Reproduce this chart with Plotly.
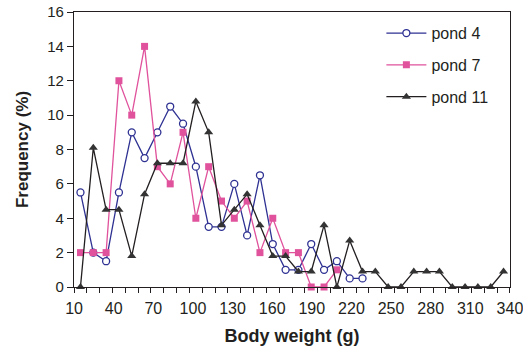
import plotly.graph_objects as go

# Body-weight bins (10 g wide, 10-350 g) -> bin centres
bin_centres = [15 + 10 * i for i in range(34)]

# Frequencies (%)
pond4 = [5.5, 2.0, 1.5, 5.5, 9.0, 7.5, 9.0, 10.5, 9.5, 7.0, 3.5, 3.5, 6.0, 3.0,
         6.5, 2.5, 1.0, 1.0, 2.5, 1.0, 1.5, 0.5, 0.5]
pond7 = [2, 2, 2, 12, 10, 14, 7, 6, 9, 4, 7, 5, 4, 5, 2, 4, 2, 2, 0, 0, 1]
pond11 = [0.0, 8.1, 4.5, 4.5, 1.8, 5.4, 7.2, 7.2, 7.2, 10.8, 9.0, 3.6, 4.5, 5.4,
          3.6, 1.8, 1.8, 0.9, 0.9, 3.6, 0.0, 2.7, 0.9, 0.9, 0.0, 0.0, 0.9, 0.9,
          0.9, 0.0, 0.0, 0.0, 0.0, 0.9]

tick_labels = [10, 40, 70, 100, 130, 160, 190, 220, 250, 280, 310, 340]
y_ticks = [0, 2, 4, 6, 8, 10, 12, 14, 16]

FONT = "Liberation Sans, Arial, Helvetica, sans-serif"
INK = "#231f20"
BLUE = "#2e3192"
PINK = "#e0529c"
DARK = "#333333"

x_lo, x_hi = 10, 350
tick_pos = [x_lo + k * (x_hi - x_lo) / (len(tick_labels) - 1) for k in range(len(tick_labels))]

fig = go.Figure()
fig.add_trace(go.Scatter(
    x=bin_centres[:len(pond4)], y=pond4, name="pond 4", mode="lines+markers",
    line=dict(color=BLUE, width=1.3),
    marker=dict(symbol="circle", size=7, color="white", line=dict(color=BLUE, width=1.3)),
    cliponaxis=False, legendgroup="a"))
fig.add_trace(go.Scatter(
    x=bin_centres[:len(pond7)], y=pond7, name="pond 7", mode="lines+markers",
    line=dict(color=PINK, width=1.3),
    marker=dict(symbol="square", size=7, color=PINK),
    cliponaxis=False, legendgroup="b"))
fig.add_trace(go.Scatter(
    x=bin_centres[:len(pond11)], y=pond11, name="pond 11", mode="lines+markers",
    line=dict(color=INK, width=1.3),
    marker=dict(symbol="triangle-up", size=8, color=DARK),
    cliponaxis=False, legendgroup="c"))

fig.update_layout(
    width=523, height=346,
    margin=dict(l=74, r=13, t=12, b=59, autoexpand=False),
    paper_bgcolor="white", plot_bgcolor="white",
    font=dict(family=FONT, color=INK, size=15),
    showlegend=True,
    legend=dict(x=0.705, y=0.985, xanchor="left", yanchor="top",
                bgcolor="rgba(0,0,0,0)", font=dict(size=16, family=FONT, color=INK),
                tracegroupgap=8, itemwidth=40),
    xaxis=dict(
        range=[x_lo - 0.05, x_hi + 0.05], showgrid=False, zeroline=False,
        showline=True, linecolor=INK, linewidth=1.3, mirror=True, automargin=False,
        tickmode="array", tickvals=tick_pos, ticktext=[str(t) for t in tick_labels],
        ticks="outside", ticklen=5, tickcolor="rgba(0,0,0,0)",
        ticklabeloverflow="allow", ticklabelstandoff=2,
        tickfont=dict(size=16, family=FONT, color=INK),
        minor=dict(ticks="outside", ticklen=5, tickwidth=1.2, tickcolor=INK,
                   tick0=10, dtick=10, showgrid=False),
        title=dict(text="Body weight (g)", standoff=15,
                   font=dict(size=18, family=FONT, color=INK, weight="bold")),
    ),
    yaxis=dict(
        range=[0, 16], showgrid=False, zeroline=False, automargin=False,
        showline=True, linecolor=INK, linewidth=1.3, mirror=True,
        tickmode="array", tickvals=y_ticks,
        ticks="outside", ticklen=6, tickwidth=1.2, tickcolor=INK,
        tickfont=dict(size=15, family=FONT, color=INK),
        title=dict(text="Frequency (%)", standoff=14,
                   font=dict(size=17, family=FONT, color=INK, weight="bold")),
    ),
)

fig.write_html("out.html")
